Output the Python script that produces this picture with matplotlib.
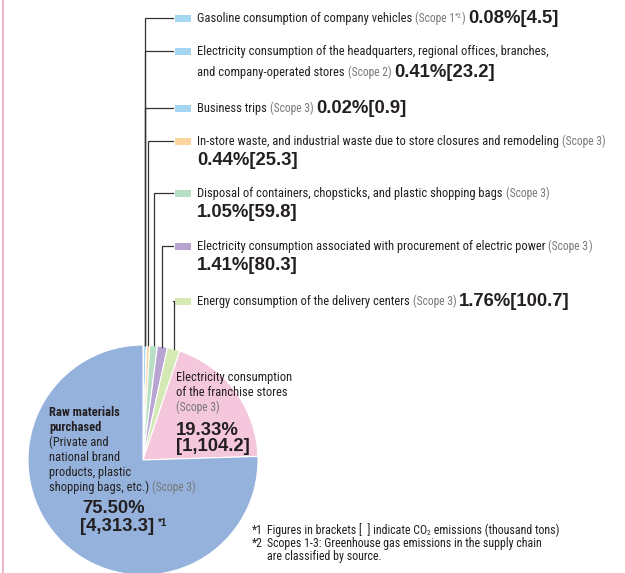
import math
import matplotlib
matplotlib.use('Agg')
import matplotlib.pyplot as plt
from matplotlib import font_manager
from matplotlib.patches import Rectangle

# Data
categories = [
    'Gasoline consumption of company vehicles',
    'Electricity consumption of the headquarters, regional offices, branches,\nand company-operated stores',
    'Business trips',
    'In-store waste, and industrial waste due to store closures and remodeling',
    'Disposal of containers, chopsticks, and plastic shopping bags',
    'Electricity consumption associated with procurement of electric power',
    'Energy consumption of the delivery centers',
    'Electricity consumption\nof the franchise stores',
    'Raw materials\npurchased',
]
shares = [0.08, 0.41, 0.02, 0.44, 1.05, 1.41, 1.76, 19.33, 75.50]
emissions = [4.5, 23.2, 0.9, 25.3, 59.8, 80.3, 100.7, 1104.2, 4313.3]
scopes = ['1', '2', '3', '3', '3', '3', '3', '3', '3']
colors = ['#a5d7f2', '#a5d7f2', '#a5d7f2', '#fcd49d', '#b6dfc4',
          '#b9a3d3', '#d5e9b4', '#f5c7dd', '#95b2dc']
footnotes = [
    ('*1', 'Figures in brackets [  ] indicate CO', '2',
     ' emissions (thousand tons)'),
    ('*2', 'Scopes 1-3: Greenhouse gas emissions in the supply chain', '', ''),
    ('', 'are classified by source.', '', ''),
]

# Fonts
avail = {f.name for f in font_manager.fontManager.ttflist}
COND = next((f for f in ['Liberation Sans Narrow', 'Roboto Condensed',
                         'Liberation Sans'] if f in avail), 'DejaVu Sans')
BOLD = 'Liberation Sans'
DARK = '#231f20'
GRAY = '#77787b'
LINE = '#333333'
TS = 9.0     # label text size
SS = 8.3     # scope text size
NS = 13.3    # bold number size

fig = plt.figure(figsize=(6.25, 5.73), dpi=100)
ax = fig.add_axes([0, 0, 1, 1])
cx, cy, r = 143, 460, 115

ax.pie(shares, colors=colors, startangle=-90, counterclock=True,
       center=(cx, cy), radius=r,
       wedgeprops=dict(edgecolor='white', linewidth=0.8))
ax.set_xlim(0, 625)
ax.set_ylim(573, 0)
ax.set_aspect('auto')
ax.axis('off')

renderer = fig.canvas.get_renderer()


def runs(x, y, parts):
    # parts: (text, family, size, weight, color, dy, gap_after)
    for txt, fam, size, weight, col, dy, gap in parts:
        t = ax.text(x, y + dy, txt, family=[fam, 'DejaVu Sans'], size=size,
                    weight=weight, color=col, va='baseline', ha='left')
        x += t.get_window_extent(renderer).width + gap
    return x


def value_text(i):
    return f'{shares[i]:.2f}%[{emissions[i]:,.1f}]'


def scope_parts(i, note=''):
    parts = [('(Scope ' + scopes[i], COND, SS, 'normal', GRAY, 0, 0)]
    if note:
        parts.append((note, COND, 5.5, 'normal', GRAY, -3.5, 0))
    parts.append((')', COND, SS, 'normal', GRAY, 0, 3))
    return parts


# Pink rule on the left edge
ax.plot([3, 3], [0, 573], color='#f2a7c6', lw=1.2)

# Labels for the small slices (baseline of first line, value inline?)
label_y = [22, 55, 112, 145, 197, 250, 305]
inline = [True, True, True, False, False, False, True]
notes = ['*2', '', '', '', '', '', '']
text_x = 197
sq_x0, sq_x1 = 175, 191

cum = 0.0
mids = []
for s in shares:
    mids.append(360.0 * (cum + s / 2) / 100.0)
    cum += s

# leader x positions: the three sky blue slices share one line
group_mid = 360.0 * (sum(shares[:3]) / 2) / 100.0
for i in range(7):
    theta = group_mid if i < 3 else mids[i]
    lx = cx + r * math.sin(math.radians(theta))
    ly = cy - r * math.cos(math.radians(theta))
    yb = label_y[i]
    ymid = yb - 4
    ax.plot([lx, lx, sq_x0 - 2], [ly, ymid, ymid], color=LINE, lw=0.9,
            solid_joinstyle='miter')
    ax.add_patch(Rectangle((sq_x0, ymid - 3.5), sq_x1 - sq_x0, 7,
                           facecolor=colors[i], edgecolor='none'))
    lines = categories[i].split('\n')
    for k, ln in enumerate(lines[:-1]):
        runs(text_x, yb + 21 * k, [(ln, COND, TS, 'normal', DARK, 0, 0)])
    ylast = yb + 21 * (len(lines) - 1)
    parts = [(lines[-1], COND, TS, 'normal', DARK, 0, 3)]
    parts += scope_parts(i, notes[i])
    if inline[i]:
        parts.append((value_text(i), BOLD, NS, 'bold', DARK, 1, 0))
        runs(text_x, ylast, parts)
    else:
        runs(text_x, ylast, parts)
        runs(text_x, ylast + 20, [(value_text(i), BOLD, NS, 'bold',
                                   DARK, 0, 0)])

# Franchise stores label inside the pink slice
fx = 176
fr = categories[7].split('\n')
runs(fx, 381, [(fr[0], COND, TS, 'normal', DARK, 0, 0)])
runs(fx, 396, [(fr[1], COND, TS, 'normal', DARK, 0, 0)])
runs(fx, 411, scope_parts(7))
runs(fx, 435, [(f'{shares[7]:.2f}%', BOLD, NS, 'bold', DARK, 0, 0)])
runs(fx, 451, [(f'[{emissions[7]:,.1f}]', BOLD, NS, 'bold', DARK, 0, 0)])

# Raw materials label inside the blue slice
rx = 49
rm = categories[8].split('\n')
runs(rx, 416, [(rm[0], COND, TS, 'bold', DARK, 0, 0)])
runs(rx, 431, [(rm[1], COND, TS, 'bold', DARK, 0, 0)])
detail = ['(Private and', 'national brand', 'products, plastic',
          'shopping bags, etc.)']
for k, ln in enumerate(detail[:-1]):
    runs(rx, 446 + 15 * k, [(ln, COND, TS, 'normal', DARK, 0, 0)])
runs(rx, 491, [(detail[-1], COND, TS, 'normal', DARK, 0, 3)]
     + scope_parts(8))
ax.text(114, 513, f'{shares[8]:.2f}%', family=BOLD, size=NS,
        weight='bold', color=DARK, ha='center', va='baseline')
runs(80, 531, [(f'[{emissions[8]:,.1f}]', BOLD, NS, 'bold', DARK, 0, 4),
               ('*1', BOLD, 7, 'bold', DARK, -5, 0)])

# Footnotes
for k, (mark, a, sub, b) in enumerate(footnotes):
    y = 534 + 13 * k
    if mark:
        ax.text(252, y, mark, family=[COND, 'DejaVu Sans'], size=8.6,
                color=DARK, va='baseline')
    parts = [(a, COND, 8.6, 'normal', DARK, 0, 0)]
    if sub:
        parts.append((sub, COND, 5.5, 'normal', DARK, 1, 0))
        parts.append((b, COND, 8.6, 'normal', DARK, 0, 0))
    runs(267, y, parts)

fig.savefig('out.png', dpi=100)
